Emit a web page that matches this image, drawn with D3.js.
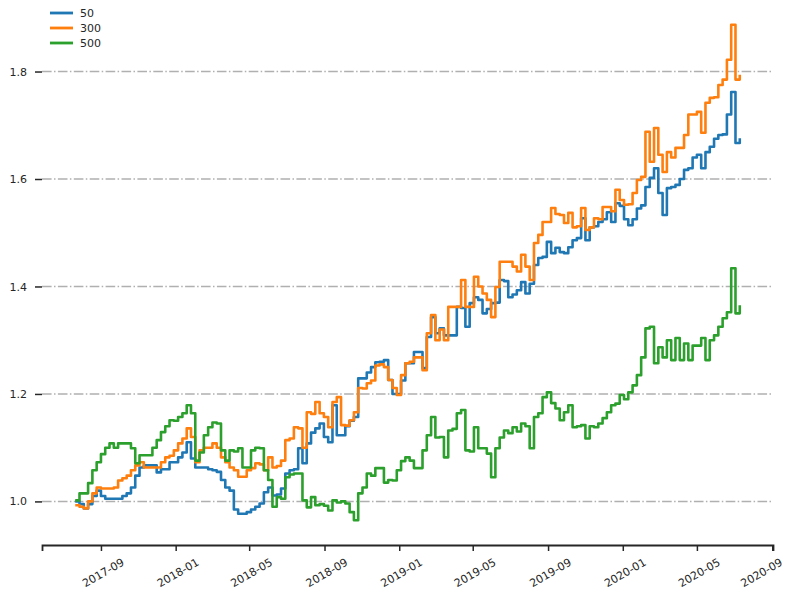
<!DOCTYPE html>
<html>
<head>
<meta charset="utf-8">
<script src="https://cdn.jsdelivr.net/npm/d3@7"></script>
<style>
  body { margin: 0; background: #fff; }
  text { font-family: "DejaVu Sans", sans-serif; fill: #262626; }
</style>
</head>
<body>
<div id="chart"></div>
<script>
// weekly observations, 2017-07-21 .. 2020-07-10
const startDate = new Date(2017, 6, 21);
const dates = d3.range(156).map(i => d3.timeDay.offset(startDate, 7 * i));

const seriesNames = ['50', '300', '500'];
const colors = ['#1f77b4', '#ff7f0e', '#2ca02c'];

const s50 = [
  1.000, 0.995, 0.987, 0.995, 1.010, 1.020, 1.010, 1.005, 1.005, 1.005,
  1.005, 1.010, 1.015, 1.026, 1.048, 1.063, 1.067, 1.067, 1.067, 1.054,
  1.060, 1.060, 1.073, 1.073, 1.082, 1.091, 1.110, 1.080, 1.063, 1.063,
  1.063, 1.060, 1.058, 1.055, 1.040, 1.026, 1.020, 0.985, 0.977, 0.977,
  0.980, 0.985, 0.990, 0.996, 1.017, 1.026, 1.011, 1.013, 1.024, 1.052,
  1.058, 1.060, 1.099, 1.071, 1.108, 1.128, 1.136, 1.145, 1.120, 1.110,
  1.179, 1.123, 1.123, 1.140, 1.150, 1.157, 1.229, 1.229, 1.240, 1.250,
  1.259, 1.260, 1.263, 1.226, 1.200, 1.200, 1.225, 1.257, 1.257, 1.278,
  1.278, 1.248, 1.306, 1.343, 1.313, 1.322, 1.309, 1.309, 1.309, 1.362,
  1.360, 1.325, 1.369, 1.380, 1.375, 1.350, 1.358, 1.369, 1.370, 1.412,
  1.410, 1.380, 1.385, 1.393, 1.408, 1.387, 1.405, 1.440, 1.453, 1.455,
  1.483, 1.462, 1.472, 1.464, 1.462, 1.473, 1.486, 1.490, 1.527, 1.486,
  1.510, 1.512, 1.520, 1.525, 1.538, 1.520, 1.555, 1.550, 1.525, 1.514,
  1.525, 1.545, 1.551, 1.585, 1.602, 1.620, 1.574, 1.533, 1.583, 1.585,
  1.589, 1.600, 1.617, 1.620, 1.640, 1.645, 1.620, 1.650, 1.660, 1.675,
  1.682, 1.683, 1.720, 1.762, 1.667, 1.676
];

const s300 = [
  0.993, 0.990, 0.987, 1.000, 1.015, 1.026, 1.024, 1.024, 1.024, 1.026,
  1.039, 1.043, 1.048, 1.058, 1.067, 1.073, 1.063, 1.063, 1.063, 1.063,
  1.073, 1.082, 1.085, 1.095, 1.108, 1.117, 1.136, 1.120, 1.073, 1.095,
  1.100, 1.100, 1.108, 1.100, 1.082, 1.073, 1.063, 1.058, 1.046, 1.046,
  1.058, 1.062, 1.071, 1.069, 1.058, 1.082, 1.063, 1.066, 1.076, 1.114,
  1.117, 1.138, 1.136, 1.100, 1.166, 1.163, 1.185, 1.164, 1.157, 1.138,
  1.185, 1.194, 1.142, 1.141, 1.151, 1.166, 1.211, 1.210, 1.220, 1.225,
  1.253, 1.255, 1.250, 1.226, 1.211, 1.198, 1.235, 1.257, 1.260, 1.268,
  1.268, 1.244, 1.313, 1.347, 1.300, 1.320, 1.300, 1.362, 1.362, 1.362,
  1.412, 1.362, 1.362, 1.418, 1.400, 1.387, 1.375, 1.343, 1.399, 1.446,
  1.446, 1.446, 1.437, 1.428, 1.459, 1.437, 1.412, 1.481, 1.496, 1.520,
  1.520, 1.546, 1.535, 1.533, 1.518, 1.537, 1.510, 1.512, 1.546, 1.505,
  1.510, 1.527, 1.525, 1.548, 1.548, 1.540, 1.580, 1.561, 1.552, 1.553,
  1.574, 1.598, 1.604, 1.688, 1.632, 1.695, 1.645, 1.613, 1.650, 1.640,
  1.658, 1.658, 1.682, 1.720, 1.720, 1.725, 1.686, 1.742, 1.751, 1.752,
  1.775, 1.785, 1.822, 1.887, 1.785, 1.794
];

const s500 = [
  1.002, 1.015, 1.015, 1.034, 1.058, 1.073, 1.088, 1.100, 1.108, 1.100,
  1.108, 1.108, 1.108, 1.099, 1.071, 1.086, 1.086, 1.086, 1.100, 1.114,
  1.129, 1.140, 1.151, 1.150, 1.157, 1.164, 1.179, 1.164, 1.076, 1.091,
  1.123, 1.138, 1.147, 1.145, 1.095, 1.076, 1.095, 1.093, 1.099, 1.063,
  1.063, 1.095, 1.100, 1.099, 1.058, 1.040, 0.990, 1.008, 1.005, 1.045,
  1.050, 1.052, 1.052, 1.002, 0.989, 1.008, 0.993, 0.995, 0.992, 0.983,
  1.002, 0.998, 1.000, 0.996, 0.980, 0.965, 1.015, 1.026, 1.052, 1.048,
  1.062, 1.062, 1.035, 1.040, 1.039, 1.058, 1.075, 1.082, 1.076, 1.062,
  1.062, 1.095, 1.123, 1.157, 1.119, 1.120, 1.082, 1.132, 1.135, 1.164,
  1.170, 1.095, 1.093, 1.138, 1.099, 1.099, 1.089, 1.045, 1.099, 1.119,
  1.132, 1.127, 1.138, 1.130, 1.145, 1.140, 1.099, 1.157, 1.164, 1.194,
  1.203, 1.183, 1.173, 1.151, 1.166, 1.179, 1.138, 1.140, 1.142, 1.117,
  1.140, 1.138, 1.145, 1.155, 1.166, 1.179, 1.182, 1.198, 1.190, 1.203,
  1.216, 1.235, 1.268, 1.322, 1.325, 1.257, 1.287, 1.268, 1.300, 1.263,
  1.304, 1.263, 1.294, 1.263, 1.290, 1.290, 1.304, 1.263, 1.300, 1.309,
  1.325, 1.341, 1.352, 1.434, 1.350, 1.365
];

const yTicks = [1.0, 1.2, 1.4, 1.6, 1.8];

const allSeries = [s50, s300, s500];

const width = 787;
const height = 590;
const margin = {top: 0, right: 14, bottom: 45, left: 42};

const svg = d3.select('#chart')
  .append('svg')
  .attr('width', width)
  .attr('height', height);

// matplotlib-like 5% padding on both axes
const xExt = d3.extent(dates);
const xPad = (xExt[1] - xExt[0]) * 0.05;
const x = d3.scaleTime()
  .domain([new Date(+xExt[0] - xPad), new Date(+xExt[1] + xPad)])
  .range([margin.left, width - margin.right]);

const yMin = d3.min(allSeries, s => d3.min(s));
const yMax = d3.max(allSeries, s => d3.max(s));
const yPad = (yMax - yMin) * 0.05;
const y = d3.scaleLinear()
  .domain([yMin - yPad, yMax + yPad])
  .range([height - margin.bottom, margin.top]);

// horizontal grid, dash-dot
svg.append('g')
  .selectAll('line')
  .data(yTicks)
  .join('line')
    .attr('x1', margin.left)
    .attr('x2', width - margin.right)
    .attr('y1', d => y(d))
    .attr('y2', d => y(d))
    .attr('stroke', '#b0b0b0')
    .attr('stroke-width', 1.5)
    .attr('stroke-dasharray', '9.6,2.4,1.5,2.4');

// lines
const line = d3.line()
  .x((d, i) => x(dates[i]))
  .y(d => y(d))
  .curve(d3.curveStepAfter);

svg.append('g')
  .selectAll('path')
  .data(allSeries)
  .join('path')
    .attr('fill', 'none')
    .attr('stroke', (d, i) => colors[i])
    .attr('stroke-width', 2.6)
    .attr('stroke-linejoin', 'round')
    .attr('d', line);

// x axis
const xAxis = svg.append('g')
  .attr('transform', `translate(0,${height - margin.bottom})`)
  .call(d3.axisBottom(x)
    .ticks(d3.timeMonth.every(4))
    .tickFormat(d3.timeFormat('%Y-%m'))
    .tickSizeOuter(0)
    .tickSize(6)
    .tickPadding(0));
xAxis.select('.domain').attr('stroke', '#262626').attr('stroke-width', 1.8);
xAxis.selectAll('.tick line').attr('stroke', '#262626').attr('stroke-width', 1.5);
const nTicks = xAxis.selectAll('.tick').size();
xAxis.selectAll('.tick text')
  .attr('font-size', '11px')
  .attr('font-family', '"DejaVu Sans", sans-serif')
  .attr('fill', '#262626')
  .attr('text-anchor', 'middle')
  .attr('dominant-baseline', 'central')
  .attr('y', 0)
  .attr('dy', null)
  // last label sits at the very edge; nudge it in so it isn't clipped
  .attr('transform', (d, i) => `translate(${i === nTicks - 1 ? -11 : 2},28) rotate(-30)`);

// y axis (no spine)
const yAxis = svg.append('g')
  .attr('transform', `translate(${margin.left},0)`)
  .call(d3.axisLeft(y)
    .tickValues(yTicks)
    .tickFormat(d3.format('.1f'))
    .tickSize(7)
    .tickPadding(8));
yAxis.select('.domain').remove();
yAxis.selectAll('.tick line').attr('stroke', '#262626').attr('stroke-width', 1.5);
yAxis.selectAll('.tick text')
  .attr('font-size', '11px')
  .attr('font-family', '"DejaVu Sans", sans-serif')
  .attr('fill', '#262626');

// legend
const legend = svg.append('g')
  .selectAll('g')
  .data(seriesNames)
  .join('g')
    .attr('transform', (d, i) => `translate(50,${13 + i * 15})`);
legend.append('line')
  .attr('x1', 0).attr('x2', 23)
  .attr('stroke', (d, i) => colors[i])
  .attr('stroke-width', 2.8);
legend.append('text')
  .attr('x', 30)
  .attr('dy', '0.35em')
  .attr('font-size', '11px')
  .text(d => d);
</script>
</body>
</html>
